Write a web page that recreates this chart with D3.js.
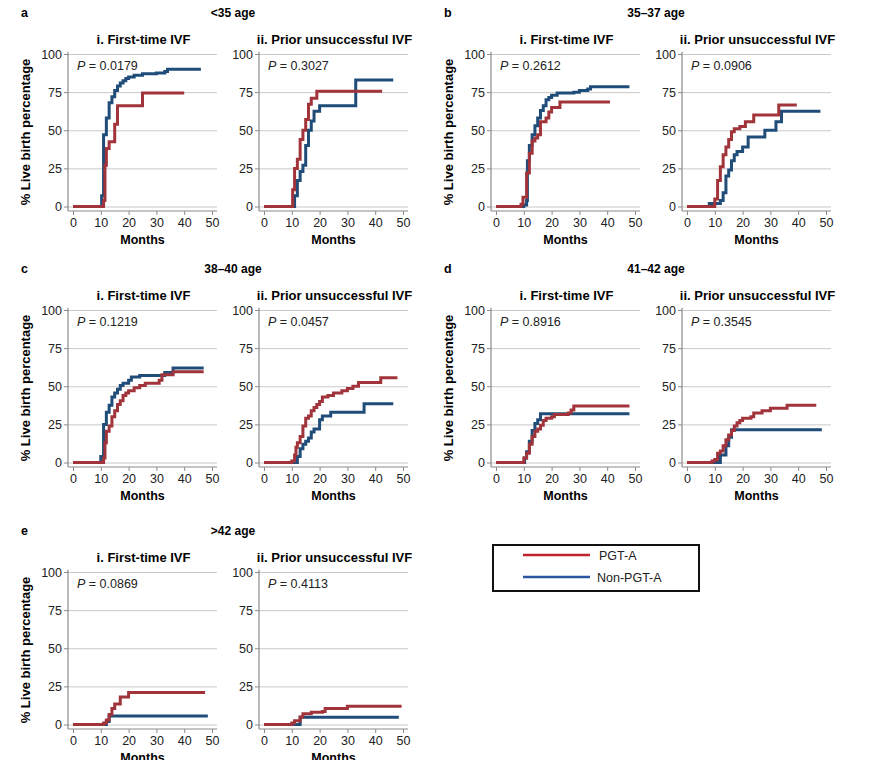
<!DOCTYPE html>
<html>
<head>
<meta charset="utf-8">
<script src="https://cdn.jsdelivr.net/npm/d3@7"></script>
<style>
  body { margin: 0; background: #fff; }
  svg { font-family: "Liberation Sans", Arial, sans-serif; }
</style>
</head>
<body>
<svg id="chart"></svg>
<script>
// axis ticks
const yTicks = [0, 25, 50, 75, 100];
const xTicks = [0, 10, 20, 30, 40, 50];

// [month, % live birth] step points
const aFirstPgt = [[0,0],[11,4],[11.5,27],[12,38],[13,42.5],[15,54],[16,66],[25,74.5],[40,74.5]];
const aFirstNon = [[0,0],[10.3,7],[11,47],[12,58],[13,68],[14,72],[15,76],[16,79],[17,81],[18,82.5],[19,84],[20,85],[22,86],[25,87],[30,87.5],[33,88.5],[34,90],[46,90]];
const aPriorPgt = [[0,0],[10.3,11],[11,25],[12,31],[13,44],[14,50],[15,57],[16,67],[17,71],[19,75.5],[42.5,75.5]];
const aPriorNon = [[0,0],[11,7],[12,17],[13,23],[14,27],[15,40],[16,50],[17,56],[18,62.5],[20,66],[33,83],[46.5,83]];

const bFirstPgt = [[0,0],[9,1.5],[9.7,6],[11,22],[12,35],[13,43],[14,45],[15,47],[16,55.5],[18,58],[19,62],[20,65],[23,68.5],[41,68.5]];
const bFirstNon = [[0,0],[10,1],[11,4],[11.3,30],[12,40],[13,47],[14,53],[15,58],[16,63],[17,66],[18,70],[19,71.5],[20,73],[22,74.5],[28,75],[30,76],[33,77],[34,78.5],[48,78.5]];
const bPriorPgt = [[0,0],[10,5],[11,17],[12,26],[13,34],[14,39],[15,44],[16,49],[17,51],[19,52.5],[21,55.5],[24,60],[33,66.5],[39.5,66.5]];
const bPriorNon = [[0,0],[8,2],[12,4],[13,9],[14,20],[15,24],[16,30],[17,34],[18,36],[20,39],[22,45.5],[28,50],[32,55.5],[34,62.5],[48,62.5]];

const cFirstPgt = [[0,0],[11,3],[11.5,13],[12,20.5],[13,24],[14,30],[15,34],[16,38],[17,40.5],[18,44],[19,45.5],[20,47],[22,49],[24,50.5],[26,52],[31,54],[32,57.5],[36,59.5],[47,59.5]];
const cFirstNon = [[0,0],[10,4],[11,25],[12,33],[13,37.5],[14,43],[15,45.5],[16,48],[17,50.5],[18,52],[20,54],[21,56],[24,57],[33,59],[36,62],[47,62]];
const cPriorPgt = [[0,0],[10,1],[11,5],[11.5,10],[12,13],[13,17],[14,24],[15,29],[16,30.5],[17,34],[18,36],[19,38],[20,40],[21,43],[23,44],[25,45.5],[28,47],[30,48.5],[32,50],[34,52.5],[42,55.5],[48,55.5]];
const cPriorNon = [[0,0],[12,4],[13,9],[14,12],[15,14],[16,16],[17,20],[18,22],[20,28],[21,30.5],[24,33],[36,38.5],[46.5,38.5]];

const dFirstPgt = [[0,0],[10,3],[11,6],[12,12],[13,17],[14,20.5],[15,22],[16,24.5],[17,27.5],[18,29],[20,30],[21,31.5],[26,32.5],[27,34.5],[28,37],[48,37]];
const dFirstNon = [[0,0],[10.3,3],[11,7],[12,14],[13,21],[14,25.5],[15,28],[16,32],[48,32]];
const dPriorPgt = [[0,0],[9,1],[10,2],[11,6],[12,7.5],[13,11],[14,15],[15,18],[16,21],[17,24],[18,26],[19,27.5],[20,29],[23,30],[24,32.5],[27,34],[30,35.5],[36,37.5],[46.5,37.5]];
const dPriorNon = [[0,0],[12,5],[14,11],[15,16.5],[16,21.5],[48.5,21.5]];

const eFirstPgt = [[0,0],[11,1],[12,3],[13,6.5],[14,10.5],[15,13.5],[17,18],[20,21],[47.5,21]];
const eFirstNon = [[0,0],[12,2],[13,5.5],[48.5,5.5]];
const ePriorPgt = [[0,0],[10,1],[11,2.5],[13,5],[14,7],[17,8],[21,8.5],[22,10.5],[30,12],[49.5,12]];
const ePriorNon = [[0,0],[13,4.8],[48.5,4.8]];

const panelLetters = ["a", "b", "c", "d", "e"];
const panelTitles = ["<35 age", "35\u201337 age", "38\u201340 age", "41\u201342 age", ">42 age"];
const pFirst = ["0.0179", "0.2612", "0.1219", "0.8916", "0.0869"];
const pPrior = ["0.3027", "0.0906", "0.0457", "0.3545", "0.4113"];
const seriesNames = ["PGT-A", "Non-PGT-A"];

const pgtColor = "#a1343a";
const nonColor = "#1f4c78";

function main() {
    const width = 893, height = 760;
    const svg = d3.select("#chart").attr("width", width).attr("height", height);

    const pairLeft = [68, 491];
    const rowTop = [54, 310, 572];
    const curves = [
        [aFirstPgt, aFirstNon, aPriorPgt, aPriorNon],
        [bFirstPgt, bFirstNon, bPriorPgt, bPriorNon],
        [cFirstPgt, cFirstNon, cPriorPgt, cPriorNon],
        [dFirstPgt, dFirstNon, dPriorPgt, dPriorNon],
        [eFirstPgt, eFirstNon, ePriorPgt, ePriorNon]
    ];

    panelLetters.forEach(function (letter, i) {
        const left = pairLeft[i % 2];
        const top = rowTop[Math.floor(i / 2)];

        svg.append("text").attr("x", left - 47).attr("y", top - 37)
            .attr("font-size", 12.5).attr("font-weight", "bold").text(letter);
        svg.append("text").attr("x", left + 165).attr("y", top - 37)
            .attr("text-anchor", "middle").attr("font-size", 12).attr("font-weight", "bold")
            .text(panelTitles[i]);

        drawSubplot(svg, left, top, curves[i][0], curves[i][1], pFirst[i], "i. First-time IVF", true);
        drawSubplot(svg, left + 191, top, curves[i][2], curves[i][3], pPrior[i], "ii. Prior unsuccessful IVF", false);
    });

    drawLegend(svg);
}

function drawSubplot(svg, left, top, pgt, non, pValue, title, showYLabel) {
    const w = 149;
    const x = d3.scaleLinear().domain([-1.8, 51.8]).range([left, left + w]);
    const y = d3.scaleLinear().domain([0, 100]).range([top + 152.5, top]);
    const base = y(0) + 4.5;

    const g = svg.append("g");

    // gridlines
    g.append("g").attr("transform", "translate(" + left + ",0)")
        .call(d3.axisLeft(y).tickValues(yTicks).tickSize(-w).tickFormat(""))
        .call(function (s) {
            s.select(".domain").remove();
            s.selectAll("line").attr("stroke", "#c9c9c9").attr("stroke-width", 1);
        });

    // axis lines
    g.append("line").attr("x1", left).attr("x2", left).attr("y1", y(101.5)).attr("y2", base)
        .attr("stroke", "#8a8a8a").attr("stroke-width", 1.2);
    g.append("line").attr("x1", left).attr("x2", left + w).attr("y1", base).attr("y2", base)
        .attr("stroke", "#8a8a8a").attr("stroke-width", 1.2);

    g.append("g").attr("transform", "translate(" + left + ",0)")
        .call(d3.axisLeft(y).tickValues(yTicks).tickSize(4).tickPadding(2))
        .call(styleAxis);

    g.append("g").attr("transform", "translate(0," + base + ")")
        .call(d3.axisBottom(x).tickValues(xTicks).tickSize(4).tickPadding(3))
        .call(styleAxis);

    const line = d3.line()
        .x(function (d) { return x(d[0]); })
        .y(function (d) { return y(d[1]); })
        .curve(d3.curveStepAfter);

    g.append("path").datum(non).attr("d", line).attr("fill", "none")
        .attr("stroke", nonColor).attr("stroke-width", 3);
    g.append("path").datum(pgt).attr("d", line).attr("fill", "none")
        .attr("stroke", pgtColor).attr("stroke-width", 3);

    // labels
    const pt = g.append("text").attr("x", left + 9).attr("y", top + 16)
        .attr("font-size", 12.5).attr("fill", "#222");
    pt.append("tspan").attr("font-style", "italic").text("P");
    pt.append("tspan").text(" = " + pValue);

    g.append("text").attr("x", left + w / 2 + 1).attr("y", top - 10)
        .attr("text-anchor", "middle").attr("font-size", 13).attr("font-weight", "bold")
        .text(title);

    g.append("text").attr("x", x(25)).attr("y", y(0) + 37)
        .attr("text-anchor", "middle").attr("font-size", 12.5).attr("font-weight", "bold")
        .text("Months");

    if (showYLabel) {
        g.append("text")
            .attr("transform", "translate(" + (left - 38) + "," + (top + 78) + ") rotate(-90)")
            .attr("text-anchor", "middle").attr("font-size", 13).attr("font-weight", "bold")
            .text("% Live birth percentage");
    }
}

function styleAxis(s) {
    s.select(".domain").remove();
    s.selectAll("line").attr("stroke", "#8a8a8a");
    s.selectAll("text").attr("font-size", 12.5).attr("fill", "#222")
        .attr("font-family", "Liberation Sans, Arial, sans-serif");
}

function drawLegend(svg) {
    const g = svg.append("g");
    g.append("rect").attr("x", 493).attr("y", 545).attr("width", 206).attr("height", 46)
        .attr("fill", "#fff").attr("stroke", "#111").attr("stroke-width", 2);
    const colors = ["#c0222c", "#2c57a0"];
    seriesNames.forEach(function (name, i) {
        const yy = 555 + i * 22;
        g.append("line").attr("x1", 523).attr("x2", 590).attr("y1", yy).attr("y2", yy)
            .attr("stroke", colors[i]).attr("stroke-width", 2.5);
        g.append("text").attr("x", i === 0 ? 599 : 597).attr("y", yy + 4.5)
            .attr("font-size", 12.5).attr("fill", "#222").text(name);
    });
}

main();
</script>
</body>
</html>
